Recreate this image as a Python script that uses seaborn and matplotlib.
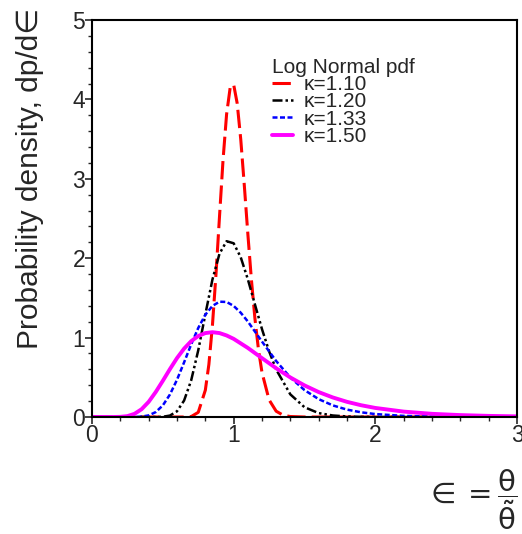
import pandas as pd
import numpy as np
import matplotlib
matplotlib.use("Agg")
import matplotlib.pyplot as plt
from matplotlib.ticker import MultipleLocator
import seaborn as sns

# values
x_110 = [0.0, 0.65, 0.70, 0.75, 0.80, 0.825, 0.85, 0.875, 0.90, 0.925, 0.95, 0.975, 1.0,
         1.025, 1.05, 1.075, 1.10, 1.125, 1.15, 1.175, 1.20, 1.25, 1.30, 1.35, 1.40, 1.50, 3.0]
y_110 = [0.0, 0.000, 0.005, 0.059, 0.338, 0.662, 1.151, 1.793, 2.524, 3.238, 3.812, 4.144, 4.186,
         3.949, 3.497, 2.920, 2.308, 1.734, 1.242, 0.851, 0.560, 0.216, 0.073, 0.022, 0.006, 0.000, 0.0]

x_120 = [0.0, 0.45, 0.50, 0.55, 0.60, 0.65, 0.70, 0.75, 0.80, 0.85, 0.90, 0.95, 1.0, 1.05, 1.10,
         1.15, 1.20, 1.25, 1.30, 1.40, 1.50, 1.60, 1.70, 1.80, 1.90, 2.0, 2.2, 3.0]
y_120 = [0.0, 0.000, 0.003, 0.018, 0.072, 0.207, 0.461, 0.840, 1.293, 1.730, 2.057, 2.214, 2.188,
         2.011, 1.735, 1.418, 1.106, 0.828, 0.598, 0.285, 0.123, 0.049, 0.019, 0.007, 0.002, 0.001,
         0.000, 0.0]

x_133 = [0.0, 0.30, 0.35, 0.40, 0.45, 0.50, 0.55, 0.60, 0.65, 0.70, 0.75, 0.80, 0.85, 0.90, 0.95,
         1.0, 1.05, 1.10, 1.20, 1.30, 1.40, 1.50, 1.60, 1.70, 1.80, 1.90, 2.0, 2.2, 2.4, 2.6, 2.8, 3.0]
y_133 = [0.0, 0.001, 0.005, 0.020, 0.062, 0.146, 0.283, 0.469, 0.688, 0.914, 1.121, 1.288, 1.399,
         1.452, 1.449, 1.399, 1.313, 1.203, 0.950, 0.705, 0.498, 0.339, 0.225, 0.146, 0.093, 0.059,
         0.037, 0.014, 0.005, 0.002, 0.001, 0.0]

x_150 = [0.0, 0.15, 0.20, 0.25, 0.30, 0.35, 0.40, 0.45, 0.50, 0.55, 0.60, 0.65, 0.70, 0.75, 0.80,
         0.85, 0.90, 0.95, 1.0, 1.10, 1.20, 1.30, 1.40, 1.50, 1.60, 1.70, 1.80, 1.90, 2.0, 2.2, 2.4,
         2.6, 2.8, 3.0]
y_150 = [0.0, 0.000, 0.002, 0.011, 0.040, 0.098, 0.191, 0.315, 0.456, 0.603, 0.742, 0.861, 0.955,
         1.020, 1.057, 1.068, 1.057, 1.027, 0.984, 0.870, 0.741, 0.614, 0.498, 0.398, 0.314, 0.246,
         0.191, 0.148, 0.114, 0.068, 0.040, 0.024, 0.014, 0.008]

labels = ["\u03ba=1.10", "\u03ba=1.20", "\u03ba=1.33", "\u03ba=1.50"]

sns.set_style("ticks")
plt.rcParams["font.family"] = ["Liberation Sans", "DejaVu Sans"]

fig = plt.figure(figsize=(5.22, 5.34), dpi=100)
ax = fig.add_axes([92 / 522, 117 / 534, 425 / 522, 397 / 534])

series = [
    (x_110, y_110, labels[0], "#ff0000", (0, (6, 2)), 2.2),
    (x_120, y_120, labels[1], "black", (0, (4, 1.2, 1, 1.2, 1, 1.2)), 1.8),
    (x_133, y_133, labels[2], "#0000ff", (0, (2, 1)), 1.8),
    (x_150, y_150, labels[3], "#ff00ff", "-", 2.8),
]
for xs, ys, lab, col, ls, lw in series:
    sns.lineplot(x=xs, y=ys, ax=ax, color=col, linestyle=ls, linewidth=lw,
                 label=lab, estimator=None, sort=False)

ax.set_xlim(0, 3)
ax.set_ylim(0, 5)
ax.xaxis.set_major_locator(MultipleLocator(1))
ax.xaxis.set_minor_locator(MultipleLocator(0.2))
ax.yaxis.set_major_locator(MultipleLocator(1))
ax.yaxis.set_minor_locator(MultipleLocator(0.2))
ax.tick_params(which="major", direction="out", length=5, width=1.2, labelsize=16.5, pad=0)
ax.tick_params(which="minor", direction="out", length=3, width=1)
for sp in ax.spines.values():
    sp.set_visible(True)
    sp.set_linewidth(1.5)
    sp.set_color("black")
ax.set_xlabel("")
ax.set_ylabel("")

fig.text(30 / 522, 1 - 8 / 534, "Probability density, dp/d\u2208", rotation=90,
         ha="center", va="top", fontsize=21.5)
fig.text(517 / 522, 2 / 534, r"$\in = \dfrac{\mathrm{\theta}}{\tilde{\mathrm{\theta}}}$",
         ha="right", va="bottom", fontsize=21, math_fontfamily="dejavusans")

leg = ax.legend(loc="upper left", bbox_to_anchor=(0.424, 0.905), frameon=False,
                title="Log Normal pdf", fontsize=15, title_fontsize=15,
                labelspacing=-0.08, handlelength=1.0, handletextpad=0.5,
                borderpad=0, borderaxespad=0, alignment="left")

fig.savefig("out.png", dpi=100)
